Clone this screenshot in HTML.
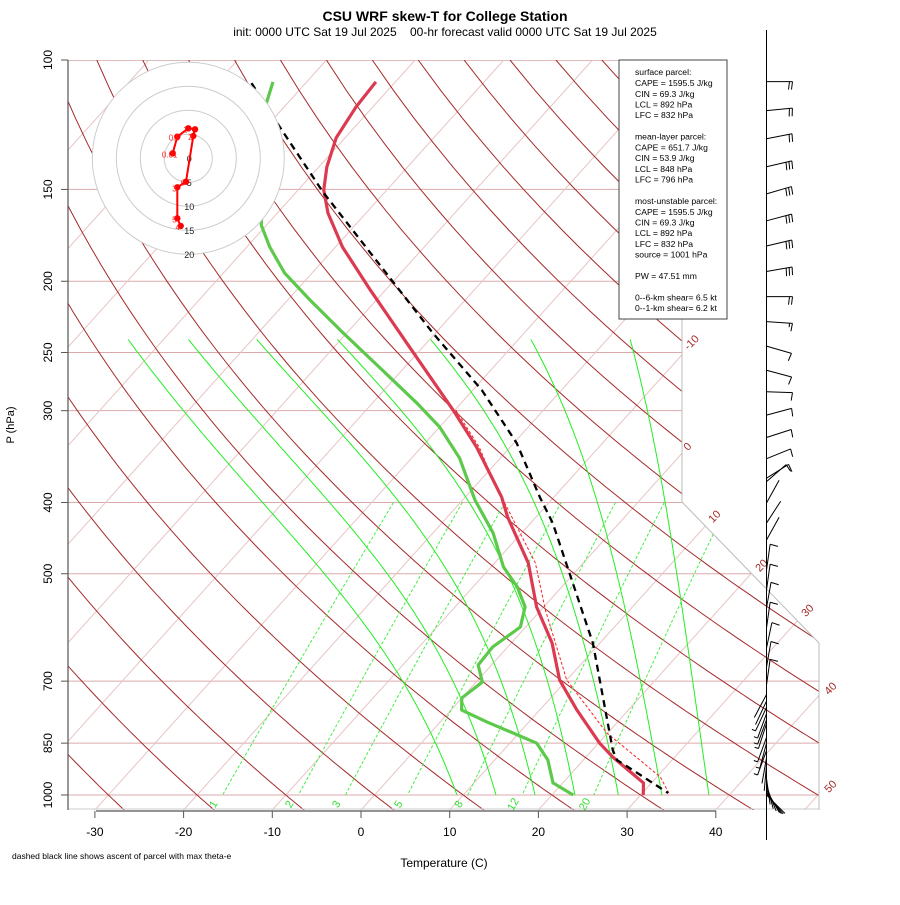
<!DOCTYPE html>
<html><head><meta charset="utf-8"><title>CSU WRF skew-T</title>
<style>
html,body{margin:0;padding:0;background:#fff;}
svg text{font-family:"Liberation Sans",Arial,sans-serif;}
</style></head>
<body>
<svg id="chart" width="900" height="900" viewBox="0 0 900 900" xmlns="http://www.w3.org/2000/svg">
<defs><clipPath id="plotclip"><polygon points="68,60 682,60 682,502 819,643 819,810 68,810"/></clipPath></defs>
<rect x="0" y="0" width="900" height="900" fill="#fff"/>
<text x="445" y="21" text-anchor="middle" font-size="14" font-weight="bold">CSU WRF skew-T for College Station</text>
<text x="445" y="36" text-anchor="middle" font-size="12" xml:space="preserve">init: 0000 UTC Sat 19 Jul 2025&#160;&#160;&#160;&#160;00-hr forecast valid 0000 UTC Sat 19 Jul 2025</text>
<g id="grid" clip-path="url(#plotclip)"></g>
<g id="series" clip-path="url(#plotclip)"></g>
<g id="frame">
<line x1="682" y1="60" x2="682" y2="502" stroke="#bbb" stroke-width="1"/>
<line x1="682" y1="502" x2="819" y2="643" stroke="#bbb" stroke-width="1"/>
<line x1="819" y1="643" x2="819" y2="810" stroke="#bbb" stroke-width="1"/>
<line x1="68" y1="809" x2="819" y2="809" stroke="#ccc" stroke-width="1"/>
<line x1="68" y1="60" x2="68" y2="810" stroke="#555" stroke-width="1.2"/>
<line x1="96" y1="811" x2="716" y2="811" stroke="#555" stroke-width="1.2"/>
</g>
<g id="axes"></g>
<text x="444" y="867" text-anchor="middle" font-size="12">Temperature (C)</text>
<text transform="translate(14,425) rotate(-90)" text-anchor="middle" font-size="11">P (hPa)</text>
<text x="12" y="859" font-size="8.5">dashed black line shows ascent of parcel with max theta-e</text>
<g id="hodo"></g>
<g id="winds">
<line x1="766.5" y1="30" x2="766.5" y2="840" stroke="#000" stroke-width="1"/>
</g>
<g>
<rect x="619" y="60" width="108" height="259" fill="#fff" stroke="#444" stroke-width="1"/>
<g font-size="8.6" fill="#000">
<text x="635" y="75">surface parcel:</text>
<text x="635" y="86">CAPE = 1595.5 J/kg</text>
<text x="635" y="97">CIN = 69.3 J/kg</text>
<text x="635" y="107.5">LCL = 892 hPa</text>
<text x="635" y="118">LFC = 832 hPa</text>
<text x="635" y="139.5">mean-layer parcel:</text>
<text x="635" y="150.5">CAPE = 651.7 J/kg</text>
<text x="635" y="161">CIN = 53.9 J/kg</text>
<text x="635" y="172">LCL = 848 hPa</text>
<text x="635" y="182.5">LFC = 796 hPa</text>
<text x="635" y="204">most-unstable parcel:</text>
<text x="635" y="215">CAPE = 1595.5 J/kg</text>
<text x="635" y="225.5">CIN = 69.3 J/kg</text>
<text x="635" y="236">LCL = 892 hPa</text>
<text x="635" y="247">LFC = 832 hPa</text>
<text x="635" y="257.5">source = 1001 hPa</text>
<text x="635" y="279">PW =  47.51 mm</text>
<text x="635" y="300.5">0--6-km shear= 6.5 kt</text>
<text x="635" y="311">0--1-km shear= 6.2 kt</text>
</g>
</g>
</svg>
<script>
// ---- data arrays ----
var pressureLevels = [100,150,200,250,300,400,500,700,850,1000];
var tempTicks = [-30,-20,-10,0,10,20,30,40];
var isothermLabels = ["-10","0","10","20","30","40","50"];
var mixingRatios = [1,2,3,5,8,12,20];
var mixingLabels = ["1","2","3","5","8","12","20"];
var moistT1000 = [9.3,13.7,18.1,22.6,27.5,32.4,37.7];
var moistTTop = [-74.0,-67.2,-59.5,-50.4,-39.9,-28.6,-17.4];
var moistPTop = 240;

var envP = [107.1,115.8,127.6,139.8,150.3,161.5,179.7,205.6,245.8,299.4,336.2,393.2,418.6,483.5,554.9,621.2,697.5,766.3,849.8,887.8,962.9,1000];
var envT = [-72.2,-71.9,-71.0,-69.1,-67.1,-64.3,-59.2,-51.7,-41.5,-30.2,-23.8,-15.9,-13.2,-6.2,-0.8,4.6,9.2,14.2,20.1,23.0,29.1,30.3];

var dewP = [107.1,114.4,167.7,179.7,194.9,212.1,235.2,270.0,292.9,315.7,348.0,396.9,440.2,489.5,521.2,554.9,590.8,629.0,665.5,702.0,738.0,766.3,795.7,849.8,896.3,962.9,1000];
var dewT = [-83.8,-82.4,-70.6,-67.4,-63.1,-57.5,-50.4,-40.7,-35.0,-30.0,-24.6,-18.6,-13.2,-8.6,-5.0,-2.1,-0.6,-1.7,-1.5,0.7,0.0,1.2,5.3,13.0,16.0,18.9,22.4];

var parcelP = [107.5,123.7,151.2,198.0,235.2,281.2,331.9,393.2,426.6,621.2,868.6,896.3,933.4,993.8];
var parcelT = [-86.1,-78.3,-67.0,-50.7,-40.3,-29.0,-19.7,-11.6,-7.5,9.2,22.3,23.8,27.4,32.9];

var virtP = [299.4,336.2,372.8,483.5,560.2,697.5,823.4,945.1,1000];
var virtT = [-29.9,-23.5,-18.6,-5.4,0.5,10.0,19.9,30.4,33.3];

var hodoU = [-3.25,-2.29,0,1.4,1.04,-0.48,-2.29,-2.29,-1.58];
var hodoV = [1.04,4.5,6.25,6.04,4.65,-4.88,-6.04,-12.5,-14.1];
var hodoLabels = ["0.01","0.5","1","","2","6","3","5","4"];
var hodoRings = [5,10,15,20];

var barbP = [107.0,117.2,128.0,139.7,152.1,165.5,179.1,194.0,209.9,227.0,245.1,264.3,282.7,304.2,326.3,348.7,370.6,374.7,400.6,426.6,449.9,494.2,526.1,556.6,592.7,631,669.8,708.6,730,745,760,775,790,800,835,850,870,890,910,930,950,965,975,985,992,997,1000];
var barbDir = [90,84.5,78.7,77,73.7,75,76.5,80,90,93.7,106,105,92,75,72,68,58,49,29,33,29,8,8,10,8,12,10,8,208,205,205,200,200,198,200,195,200,190,185,180,172,165,158,150,145,140,135];
var barbSpd = [20,20,20,30,30,30,30,30,20,15,10,10,10,10,10,10,10,10,3,3,3,10,10,10,10,10,10,10,3,3,5,5,5,5,5,5,5,3,3,3,3,3,3,3,3,3,3];

// ---- scales ----
function yP(p){ return 60 + 735*Math.log10(p/100); }
function xT(t,p){ return 361 + 8.87*t + 0.9*(810 - yP(p)); }
var NS = "http://www.w3.org/2000/svg";
function mk(tag, parent, attrs){
  var e = document.createElementNS(NS, tag);
  for (var k in attrs) e.setAttribute(k, attrs[k]);
  parent.appendChild(e);
  return e;
}
function ptsStr(ps, ts){
  var s = [];
  for (var i=0;i<ps.length;i++) s.push(xT(ts[i],ps[i]).toFixed(2)+","+yP(ps[i]).toFixed(2));
  return s.join(" ");
}
function esat(t){ return 6.112*Math.exp(17.67*t/(t+243.5)); }

var grid = document.getElementById("grid");
var series = document.getElementById("series");
var axes = document.getElementById("axes");

// pressure lines
pressureLevels.forEach(function(p){
  var l = mk("line", grid, {x1:68, x2:830, y1:yP(p), y2:yP(p), stroke:(p===100?"#b77":"#dcaaaa"), "stroke-width":1});
  
  
});
// isotherms
for (var T=-160; T<=50; T+=10){
  var l = mk("line", grid, {x1:xT(T,1050), y1:yP(1050), x2:xT(T,100), y2:yP(100), stroke:"#e8c4c4", "stroke-width":1});
  
  
}
// dry adiabats
for (var th=-30; th<=220; th+=10){
  var pts=[];
  for (var p=100; p<=1050; p+=10){
    var t=(th+273.15)*Math.pow(p/1000,0.286)-273.15;
    pts.push(xT(t,p).toFixed(1)+","+yP(p).toFixed(1));
  }
  var pl = mk("polyline", grid, {points:pts.join(" "), fill:"none", stroke:"#a52a2a", "stroke-width":1});
  
  
}
// moist adiabats (physical shape, anchored to read top values)
moistT1000.forEach(function(t0, idx){
  var t=t0, p=1000, raw=[[p,t]];
  while (p>moistPTop){
    var dp=-2, Tk=t+273.15, es=esat(t), rs=0.622*es/(p-es);
    var num=287*Tk+2.5e6*rs, den=1004+2.5e6*2.5e6*rs*0.622/(287*Tk*Tk);
    t += num/den/p*dp; p += dp;
    raw.push([p,t]);
  }
  var corr = moistTTop[idx] - raw[raw.length-1][1];
  var span = Math.log(1000/moistPTop);
  var pts = raw.map(function(r){
    var f = Math.log(1000/r[0])/span;
    var tt = r[1] + corr*f;
    return xT(tt,r[0]).toFixed(1)+","+yP(r[0]).toFixed(1);
  });
  var pl = mk("polyline", grid, {points:pts.join(" "), fill:"none", stroke:"#22ee22", "stroke-width":1});
  
  
});
// mixing ratio lines
mixingRatios.forEach(function(w,i){
  var pts=[];
  for (var p=400; p<=1000; p+=10){
    var es=w*p/(622+w), L=Math.log(es/6.112), t=243.5*L/(17.67-L);
    pts.push(xT(t,p).toFixed(1)+","+yP(p).toFixed(1));
  }
  var pl = mk("polyline", grid, {points:pts.join(" "), fill:"none", stroke:"#44ee44", "stroke-width":1, "stroke-dasharray":"3,2"});
  
  
  var es1=w*1000/(622+w), L1=Math.log(es1/6.112), t1=243.5*L1/(17.67-L1);
  var lx=xT(t1,1000)-6, ly=806;
  var tx = mk("text", axes, {x:lx, y:ly, "font-size":11, fill:"#33dd33", "text-anchor":"middle", transform:"rotate(-60 "+lx+" "+ly+")"});
  tx.textContent = mixingLabels[i];
  
  
});
// isotherm labels
var isoLabelPos = [[692,343],[688,447],[715,517],[762,566],[808,611],[831,689],[831,787]];
isothermLabels.forEach(function(s,i){
  var x=isoLabelPos[i][0], y=isoLabelPos[i][1];
  var tx = mk("text", axes, {x:x, y:y, "font-size":11, fill:"#a52a2a", "text-anchor":"middle", "dominant-baseline":"middle", transform:"rotate(-45 "+x+" "+y+")"});
  tx.textContent = s;
  
  
});

// series
var vt = mk("polyline", series, {points:ptsStr(virtP,virtT), fill:"none", stroke:"#ff2020", "stroke-width":1, "stroke-dasharray":"3,2"});


var dl = mk("polyline", series, {points:ptsStr(dewP,dewT), fill:"none", stroke:"#5cc94a", "stroke-width":3.2, "stroke-linejoin":"round"});


var tl = mk("polyline", series, {points:ptsStr(envP,envT), fill:"none", stroke:"#dc3a50", "stroke-width":3.2, "stroke-linejoin":"round"});


var pc = mk("polyline", series, {points:ptsStr(parcelP,parcelT), fill:"none", stroke:"#000", "stroke-width":2.3, "stroke-dasharray":"7,5"});



// axes ticks
pressureLevels.forEach(function(p){
  var y=yP(p);
  var tk = mk("line", axes, {x1:61, x2:68, y1:y, y2:y, stroke:"#555", "stroke-width":1});
  
  
  var tx = mk("text", axes, {x:52, y:y, "font-size":12, "text-anchor":"middle", transform:"rotate(-90 52 "+y+")"});
  tx.textContent = String(p);
  
  
});
tempTicks.forEach(function(t){
  var x=361+8.87*t;
  var tk = mk("line", axes, {x1:x, x2:x, y1:811, y2:818, stroke:"#555", "stroke-width":1});
  
  
  var tx = mk("text", axes, {x:x, y:836, "font-size":12, "text-anchor":"middle"});
  tx.textContent = String(t);
  
  
});

// hodograph
var hodo = document.getElementById("hodo");
var hcx=188.3, hcy=158.3, hs=4.8;
var bg = mk("circle", hodo, {cx:hcx, cy:hcy, r:96, fill:"#fff", stroke:"#ccc", "stroke-width":1});


hodoRings.forEach(function(r){
  if (r<20){
    var c = mk("circle", hodo, {cx:hcx, cy:hcy, r:r*hs, fill:"none", stroke:"#ccc", "stroke-width":1});
    
    
  }
});
[0].concat(hodoRings).forEach(function(r){
  var tx = mk("text", hodo, {x:hcx+1, y:hcy+r*hs+3.5, "font-size":9, "text-anchor":"middle", fill:"#222"});
  tx.textContent = String(r);
  
  
});
var hp=[];
for (var i=0;i<hodoU.length;i++) hp.push((hcx+hodoU[i]*hs).toFixed(1)+","+(hcy-hodoV[i]*hs).toFixed(1));
var hl = mk("polyline", hodo, {points:hp.join(" "), fill:"none", stroke:"#ff0000", "stroke-width":2});


for (var i=0;i<hodoU.length;i++){
  var x=hcx+hodoU[i]*hs, y=hcy-hodoV[i]*hs;
  var d = mk("circle", hodo, {cx:x, cy:y, r:3.2, fill:"#ff0000"});
  
  
  if (hodoLabels[i]){
    var tx = mk("text", hodo, {x:x-3, y:y+4, "font-size":8, "text-anchor":"middle", fill:"#ff2020"});
    tx.textContent = hodoLabels[i];
    
    
  }
}

// wind barbs
var winds = document.getElementById("winds");
for (var i=0;i<barbP.length;i++){
  var y0=yP(barbP[i]), a=barbDir[i]*Math.PI/180, L=26;
  var sx=Math.sin(a), sy=-Math.cos(a);
  var ex=766.5+sx*L, ey=y0+sy*L;
  var g = mk("g", winds, {});
  
  
  mk("line", g, {x1:766.5, y1:y0, x2:ex, y2:ey, stroke:"#000", "stroke-width":1});
  var px=-sy, py=sx;
  var spd=barbSpd[i], full=Math.floor(spd/10), half=(spd%10>=5)?1:0, pos=0;
  for (var k=0;k<full;k++){
    var bx=ex-sx*pos, by=ey-sy*pos;
    mk("line", g, {x1:bx, y1:by, x2:bx+px*8-sx*1, y2:by+py*8-sy*1, stroke:"#000", "stroke-width":1});
    pos+=3;
  }
  if (half){
    var bx=ex-sx*pos, by=ey-sy*pos;
    mk("line", g, {x1:bx, y1:by, x2:bx+px*4, y2:by+py*4, stroke:"#000", "stroke-width":1});
  }
}
</script>
</body></html>
